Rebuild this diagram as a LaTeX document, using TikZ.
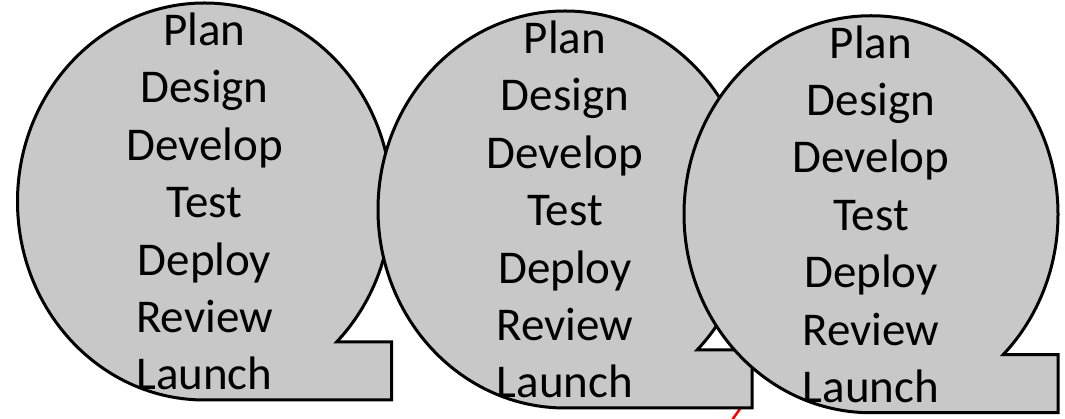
\documentclass[tikz,border=0pt]{standalone}
\usepackage{fontspec}
\setmainfont{Carlito}
\usetikzlibrary{calc}
\definecolor{tapefill}{RGB}{200,200,200}
\definecolor{linkred}{RGB}{255,0,0}
\begin{document}
\begin{tikzpicture}[x=1pt,y=1pt,
  tapeoutline/.style={draw=black, fill=tapefill, line width=3pt, line join=miter},
  steplist/.style={align=center, inner sep=0pt, text=black,
    font=\fontsize{47}{57.4}\selectfont},
  linkline/.style={draw=linkred, line width=2.5pt}]
\useasboundingbox (0,0) rectangle (1065,419);
% red link leaving through the lower edge
\coordinate (linkA) at (742,13);
\coordinate (linkB) at (730,-4);
\draw[linkline] (linkA) -- (linkB);
% three tape-shaped stages, each drawn over the previous one
\foreach \name/\cx/\cy in {one/204.5/217.5, two/565/209.5, three/871/204.75} {
  \coordinate (\name) at (\cx,\cy);
  \draw[tapeoutline] ($(\name)+(0,-198.5)$)
    arc[start angle=270, end angle=-45, x radius=187, y radius=198.5]
    -- ($(\name)+(187,-140.36)$) -- ($(\name)+(187,-198.5)$) -- cycle;
  \node[steplist] (\name-text) at (\name)
    {Plan\\Design\\Develop\\Test\\Deploy\\Review\\Launch};
}
\end{tikzpicture}
\end{document}
